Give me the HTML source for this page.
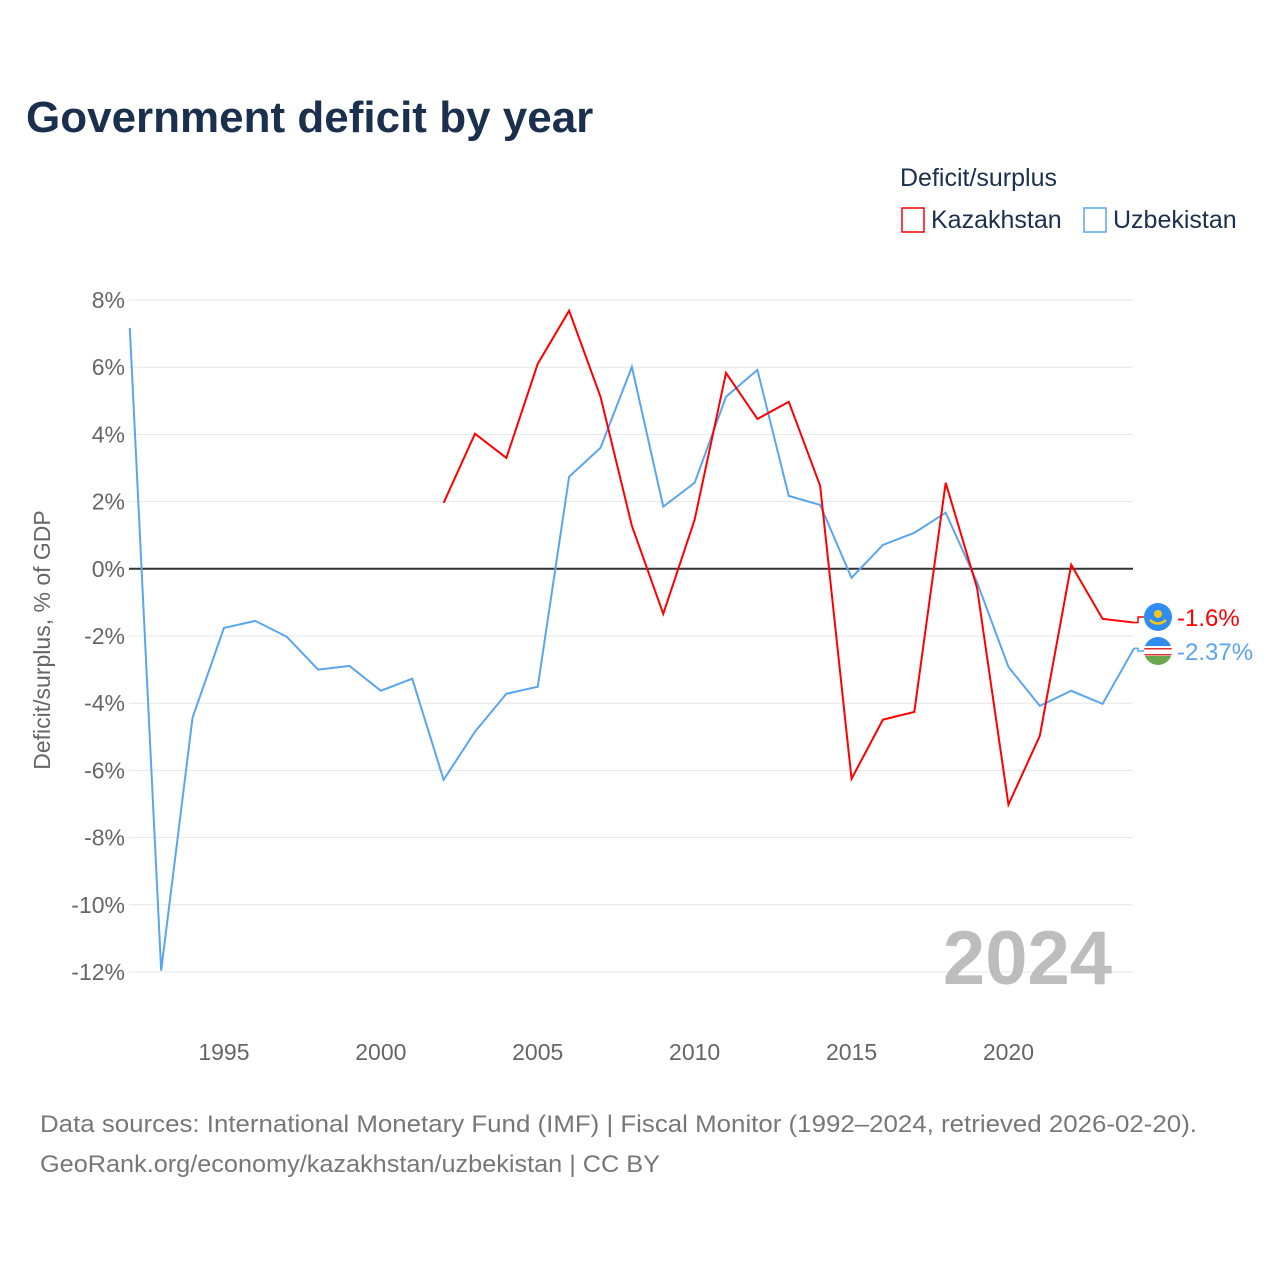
<!DOCTYPE html>
<html><head><meta charset="utf-8"><style>
body{margin:0;background:#fff;font-family:"Liberation Sans",sans-serif;}
svg text{font-family:"Liberation Sans",sans-serif;}
</style></head><body>
<svg id="chart" width="1280" height="1280" xmlns="http://www.w3.org/2000/svg">
<text x="26" y="132" font-size="44" font-weight="bold" fill="#1b2f4e">Government deficit by year</text>
<text x="900" y="186" font-size="25" fill="#1b2f4e">Deficit/surplus</text>
<g><rect x="902" y="208" width="22" height="24" fill="none" stroke="#ff0000" stroke-width="1.5"/><text x="931" y="228" font-size="25" fill="#1b2f4e">Kazakhstan</text></g>
<g><rect x="1084" y="208" width="22" height="24" fill="none" stroke="#5aa5f0" stroke-width="1.5"/><text x="1113" y="228" font-size="25" fill="#1b2f4e">Uzbekistan</text></g>
<g id="grid"></g><g id="xt"></g><g id="lines"></g>
<text x="1112" y="984" text-anchor="end" font-size="76" font-weight="bold" fill="#bdbdbd">2024</text>
<text transform="translate(50,640) rotate(-90)" text-anchor="middle" font-size="23" fill="#666">Deficit/surplus, % of GDP</text>
<text x="40" y="1132" font-size="24" fill="#777" textLength="1157" lengthAdjust="spacingAndGlyphs">Data sources: International Monetary Fund (IMF) | Fiscal Monitor (1992–2024, retrieved 2026-02-20).</text>
<text x="40" y="1172" font-size="24" fill="#777" textLength="620" lengthAdjust="spacingAndGlyphs">GeoRank.org/economy/kazakhstan/uzbekistan | CC BY</text>
</svg>
<script>
const years=[];for(let y=1992;y<=2024;y++)years.push(y);
const uzb=[7.17,-11.96,-4.43,-1.76,-1.55,-2.02,-3.0,-2.89,-3.63,-3.27,-6.28,-4.85,-3.72,-3.51,2.74,3.6,6.01,1.85,2.56,5.12,5.92,2.17,1.9,-0.27,0.71,1.07,1.67,-0.4,-2.92,-4.08,-3.63,-4.02,-2.37];
const kazYears=[2002,2003,2004,2005,2006,2007,2008,2009,2010,2011,2012,2013,2014,2015,2016,2017,2018,2019,2020,2021,2022,2023,2024];
const kaz=[1.96,4.02,3.3,6.1,7.68,5.12,1.28,-1.34,1.46,5.83,4.46,4.97,2.47,-6.25,-4.49,-4.26,2.56,-0.57,-7.02,-4.97,0.12,-1.49,-1.6];
const yTicks=[8,6,4,2,0,-2,-4,-6,-8,-10,-12];
const xTicks=[1995,2000,2005,2010,2015,2020];
const X=y=>129.8+(y-1992)*31.38, Y=v=>568.8-v*33.6;
const NS="http://www.w3.org/2000/svg";
function mk(t,a,p){const e=document.createElementNS(NS,t);for(const k in a)e.setAttribute(k,a[k]);p.appendChild(e);return e;}
const g=document.getElementById('grid');
yTicks.forEach(v=>{
 const l=mk('line',{x1:129,x2:1133,y1:Y(v),y2:Y(v),stroke:v===0?'#333':'#e6e6e6','stroke-width':v===0?2:1},g);
 
 
 const t=mk('text',{x:125,y:Y(v)+8,'text-anchor':'end','font-size':23,fill:'#666'},g);t.textContent=v+'%';
 
 
});
const xt=document.getElementById('xt');
xTicks.forEach(v=>{const t=mk('text',{x:X(v),y:1060,'text-anchor':'middle','font-size':23,fill:'#666'},xt);t.textContent=v;
 
 });
const L=document.getElementById('lines');
const pu=mk('polyline',{points:years.map((y,i)=>X(y)+','+Y(uzb[i])).join(' '),fill:'none',stroke:'#5aa5f0','stroke-width':2},L);


const pk=mk('polyline',{points:kazYears.map((y,i)=>X(y)+','+Y(kaz[i])).join(' '),fill:'none',stroke:'#ff0000','stroke-width':2},L);


const kv=kaz[kaz.length-1],uv=uzb[uzb.length-1];
const ky=617,uy=651;
mk('polyline',{points:`${X(2024)},${Y(kv)} 1138,${Y(kv)} 1138,${ky} 1144,${ky}`,fill:'none',stroke:'#ff0000','stroke-width':1.5},L);
mk('polyline',{points:`${X(2024)},${Y(uv)} 1138,${Y(uv)} 1138,${uy} 1144,${uy}`,fill:'none',stroke:'#5aa5f0','stroke-width':1.5},L);
const fk=mk('circle',{cx:1158,cy:ky,r:14,fill:'#2f8cf0'},L);


mk('circle',{cx:1158,cy:ky-3,r:4,fill:'#f5c518'},L);
mk('path',{d:`M1150 ${ky+3} Q1158 ${ky+10} 1166 ${ky+3}`,fill:'none',stroke:'#f5c518','stroke-width':2.5},L);
const cp=mk('clipPath',{id:'uc'},L);mk('circle',{cx:1158,cy:uy,r:14},cp);
const fu=mk('g',{'clip-path':'url(#uc)'},L);


mk('rect',{x:1144,y:uy-14,width:28,height:9,fill:'#2f8cf0'},fu);
mk('rect',{x:1144,y:uy-5,width:28,height:10,fill:'#fff'},fu);
mk('rect',{x:1144,y:uy-3,width:28,height:1.5,fill:'#e03030'},fu);
mk('rect',{x:1144,y:uy+3,width:28,height:1.5,fill:'#e03030'},fu);
mk('rect',{x:1144,y:uy+5,width:28,height:10,fill:'#6aa84f'},fu);
const tk=mk('text',{x:1177,y:ky+9,'font-size':24,fill:'#ff0000'},L);tk.textContent=kv+'%';


const tu=mk('text',{x:1177,y:uy+9,'font-size':24,fill:'#5aa5f0'},L);tu.textContent=uv+'%';


</script>
</body></html>
